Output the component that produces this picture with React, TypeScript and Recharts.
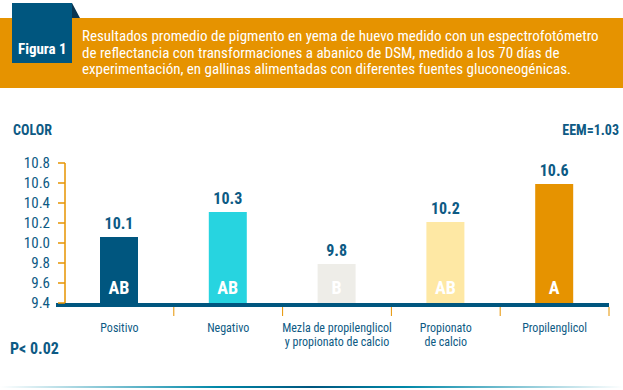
import { BarChart, Bar, XAxis, YAxis, Cell, LabelList } from 'recharts';

const categories = ['Positivo', 'Negativo', 'Mezla de propilenglicol|y propionato de calcio', 'Propionato|de calcio', 'Propilenglicol'];
const values = [10.06, 10.31, 9.79, 10.21, 10.59];
const letters = ['AB', 'AB', 'B', 'AB', 'A'];
const barColors = ['#00567f', '#27d4e0', '#eeede8', '#fee8a4', '#e69300'];
const yTicks = [9.4, 9.6, 9.8, 10.0, 10.2, 10.4, 10.6, 10.8];

const BLUE = '#0d5a84';
const ORANGE = '#e69300';
const FONT = "'Liberation Sans Narrow', 'Roboto Condensed', Roboto, sans-serif";

const data = categories.map((c, i) => ({ name: c, value: values[i], letter: letters[i] }));

const XTick = (props: any) => {
  const { x, y, payload } = props;
  const lines = String(payload.value).split('|');
  const half = payload.offset ?? 54.4;
  return (
    <g>
      <line x1={x + half} x2={x + half} y1={y + 2} y2={y + 11} stroke={ORANGE} strokeWidth={1} />
      {lines.map((l, i) => (
        <text key={i} x={x} y={y + 27 + i * 14} textAnchor="middle" fill={BLUE} fontSize={12} fontFamily={FONT}>
          {l}
        </text>
      ))}
    </g>
  );
};

const LetterLabel = (props: any) => {
  const { x, y, width, height, value } = props;
  return (
    <text x={x + width / 2} y={y + height - 9} textAnchor="middle" fill="#fff" fontSize={18} fontWeight="bold" fontFamily={FONT}>
      {value}
    </text>
  );
};

export default function App() {
  return (
    <div style={{ position: 'absolute', left: 0, top: 0, width: 623, height: 390, background: '#fff', fontFamily: FONT }}>
      <div style={{ position: 'absolute', left: 0, top: 18, width: 623, height: 70, background: ORANGE }} />
      <div style={{ position: 'absolute', left: 72, top: 3, width: 0, height: 0, borderLeft: '8px solid #0a3550', borderTop: '15px solid transparent' }} />
      <div style={{ position: 'absolute', left: 12, top: 3, width: 60, height: 60, background: '#00567f' }}>
        <div style={{ position: 'absolute', left: 6, top: 38, color: '#fff', fontSize: 15, fontWeight: 'bold', lineHeight: '17px', whiteSpace: 'nowrap' }}>Figura 1</div>
      </div>
      <div style={{ position: 'absolute', left: 82, top: 28, color: '#fff', fontSize: 15, lineHeight: '16.5px', width: 540, whiteSpace: 'nowrap' }}>
        Resultados promedio de pigmento en yema de huevo medido con un espectrofotómetro<br />
        de reflectancia con transformaciones a abanico de DSM, medido a los 70 días de<br />
        experimentación, en gallinas alimentadas con diferentes fuentes gluconeogénicas.
      </div>
      <div style={{ position: 'absolute', left: 13, top: 122, color: BLUE, fontSize: 14, fontWeight: 'bold' }}>COLOR</div>
      <div style={{ position: 'absolute', right: 4, top: 122, color: BLUE, fontSize: 14, fontWeight: 'bold' }}>EEM=1.03</div>
      <div style={{ position: 'absolute', left: 10, top: 339, color: BLUE, fontSize: 16, fontWeight: 'bold' }}>P&lt; 0.02</div>
      <div style={{ position: 'absolute', left: 0, top: 386, width: 623, height: 2, background: 'linear-gradient(to right, rgba(0,86,127,0), #0088a8 35%, #00567f 50%, #0088a8 65%, rgba(0,86,127,0))' }} />
      <div style={{ position: 'absolute', left: 56, top: 303, width: 10, height: 4, background: '#00567f' }} />
      <div style={{ position: 'absolute', left: 0, top: 0 }}>
        <BarChart width={623} height={390} data={data} margin={{ top: 163, right: 14, bottom: 0, left: 0 }} barCategoryGap={0}>
          <YAxis
            domain={[9.4, 10.8]}
            ticks={yTicks}
            width={65}
            interval={0}
            axisLine={{ stroke: ORANGE, strokeWidth: 1.5 }}
            tickLine={{ stroke: ORANGE, strokeWidth: 1.5 }}
            tickSize={7}
            tickMargin={8}
            tick={{ fill: BLUE, fontSize: 15, fontFamily: FONT }}
            tickFormatter={(v: number) => v.toFixed(1)}
          />
          <XAxis
            dataKey="name"
            interval={0}
            axisLine={{ stroke: '#00567f', strokeWidth: 4, transform: 'translate(0,2)' }}
            tickLine={false}
            tick={<XTick />}
            tickSize={0}
            height={87}
          />
          <Bar dataKey="value" barSize={38} isAnimationActive={false}>
            {data.map((d, i) => (
              <Cell key={i} fill={barColors[i]} />
            ))}
            <LabelList
              dataKey="value"
              position="top"
              offset={8}
              formatter={(v: number) => v.toFixed(1)}
              fill={BLUE}
              fontSize={16}
              fontWeight="bold"
              fontFamily={FONT}
            />
            <LabelList dataKey="letter" content={<LetterLabel />} />
          </Bar>
        </BarChart>
      </div>
    </div>
  );
}
